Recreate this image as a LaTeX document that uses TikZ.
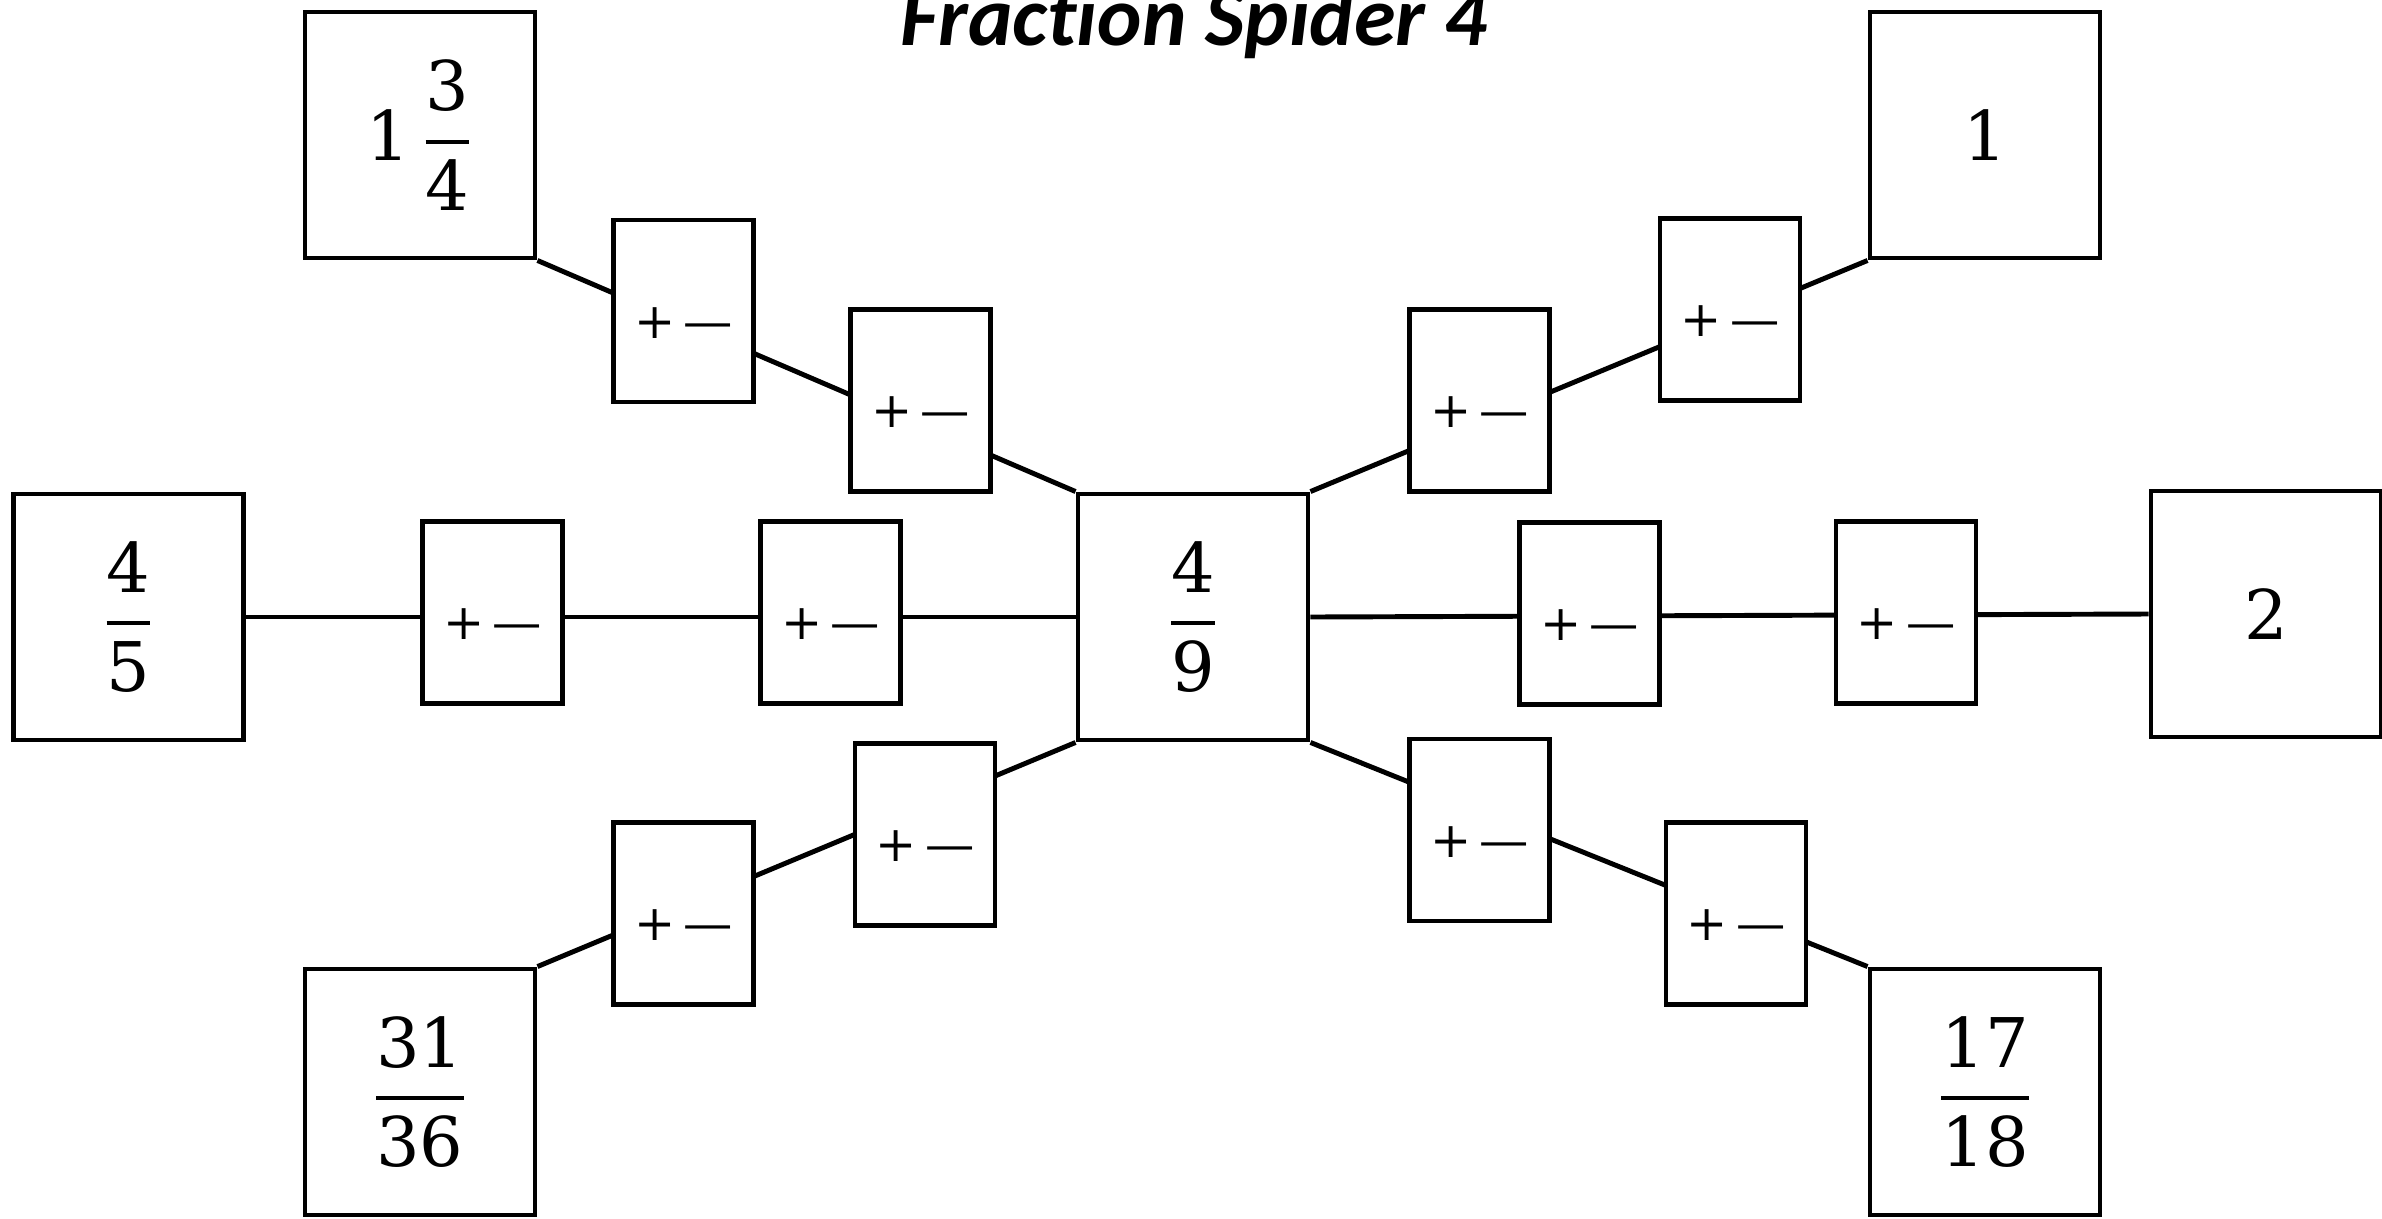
\documentclass[tikz,border=0pt]{standalone}
\usepackage{amsmath}
\usepackage{fontspec}
\setmainfont{DejaVu Serif}
\newfontfamily\titlefont[Ligatures=NoCommon]{Carlito}
\newcommand{\frc}[2]{\genfrac{}{}{1.1pt}{0}{\text{#1}}{\text{#2}}}

\begin{document}
\begin{tikzpicture}[
  line width=1.4pt,
  big/.style={draw,minimum width=2.3cm,minimum height=2.46cm,inner sep=0pt,font=\fontsize{19.5}{24}\selectfont},
  op/.style={draw,fill=white,minimum width=1.4cm,minimum height=1.82cm,inner sep=0pt,
    text height=0.54cm,text depth=0cm,font=\fontsize{14}{17}\selectfont}]
\useasboundingbox (0,0) rectangle (23.82,-12.18);
\node[font=\titlefont\fontsize{24}{28}\selectfont\bfseries\itshape,anchor=base] (title) at (11.94,-0.45) {Fraction Spider 4};
% outer numbers
\node[big] (c) at (11.93,-6.17) {$\frc{4}{9}$};
\node[big] (tl) at (4.20,-1.35) {1\,$\frc{3}{4}$};
\node[big] (tr) at (19.85,-1.35) {1};
\node[big] (l) at (1.285,-6.17) {$\frc{4}{5}$};
\node[big] (r) at (22.66,-6.14) {2};
\node[big] (bl) at (4.20,-10.92) {$\frc{31}{36}$};
\node[big] (br) at (19.85,-10.92) {$\frc{17}{18}$};
% legs
\draw (tl.south east) -- (c.north west);
\draw (l.east) -- (c.west);
\draw (bl.north east) -- (c.south west);
\draw (c.north east) -- (tr.south west);
\draw (c.east) -- (r.west);
\draw (c.south east) -- (br.north west);
% operation boxes
\node[op] (tl1) at (6.835,-3.11) {+\,---};
\node[op] (tl2) at (9.205,-4.005) {+\,---};
\node[op] (l1) at (4.925,-6.125) {+\,---};
\node[op] (l2) at (8.305,-6.125) {+\,---};
\node[op] (bl2) at (9.25,-8.345) {+\,---};
\node[op] (bl1) at (6.835,-9.135) {+\,---};
\node[op] (tr2) at (14.795,-4.005) {+\,---};
\node[op] (tr1) at (17.30,-3.095) {+\,---};
\node[op] (r2) at (15.895,-6.135) {+\,---};
\node[op] (r1) at (19.06,-6.125) {+\,---};
\node[op] (br2) at (14.795,-8.30) {+\,---};
\node[op] (br1) at (17.36,-9.135) {+\,---};
\end{tikzpicture}
\end{document}
